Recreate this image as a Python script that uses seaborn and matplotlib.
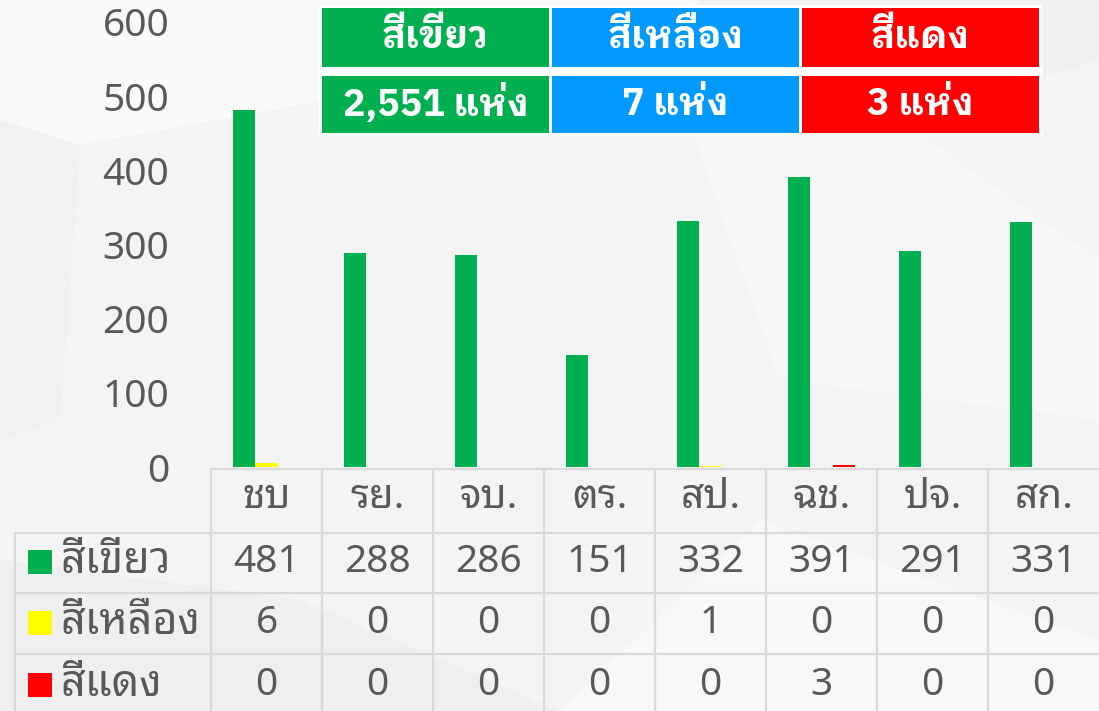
import matplotlib
matplotlib.use("Agg")
import matplotlib.pyplot as plt
from matplotlib.patches import Rectangle, Polygon
from matplotlib.lines import Line2D
import matplotlib.transforms as mtransforms
import pandas as pd
import seaborn as sns

# ---------------- data ----------------
provinces = ["ชบ", "รย.", "จบ.", "ตร.", "สป.", "ฉช.", "ปจ.", "สก."]
series_names = ["สีเขียว", "สีเหลือง", "สีแดง"]
green_vals = [481, 288, 286, 151, 332, 391, 291, 331]
yellow_vals = [6, 0, 0, 0, 1, 0, 0, 0]
red_vals = [0, 0, 0, 0, 0, 3, 0, 0]
summary_labels = ["สีเขียว", "สีเหลือง", "สีแดง"]
summary_values = ["2,551 แห่ง", "7 แห่ง", "3 แห่ง"]
y_ticks = [0, 100, 200, 300, 400, 500, 600]

colors = ["#00B050", "#FFFF00", "#FF0000"]
legend_colors = ["#00B050", "#0099FF", "#FF0000"]
text_color = "#595959"
grid_color = "#d9d9d9"

FONT = ["Noto Sans Thai Looped", "Noto Sans", "DejaVu Sans"]
BOLD_FONT = ["IBM Plex Sans Thai Looped", "Noto Sans Thai Looped", "Noto Sans", "DejaVu Sans"]

sns.set_theme(style="white")
plt.rcParams["font.family"] = FONT

W, H = 1099, 711
fig = plt.figure(figsize=(W / 100, H / 100), dpi=100)
fig.patch.set_facecolor("#f4f4f4")

def fx(x):
    return x / W

def fy(y):
    return 1 - y / H

# faint background polygons
bg_polys = [
    ([(0, 0), (700, 0), (660, 40), (80, 145), (0, 120)], "#f9f9f9"),
    ([(0, 120), (80, 145), (60, 420), (0, 440)], "#f1f1f1"),
    ([(700, 0), (1099, 0), (1099, 60), (900, 120), (660, 40)], "#f0f0f0"),
    ([(660, 40), (900, 120), (1099, 260), (1099, 420), (780, 380)], "#f7f7f7"),
    ([(0, 560), (300, 600), (560, 711), (0, 711)], "#efefef"),
    ([(560, 711), (760, 520), (1099, 640), (1099, 711)], "#f8f8f8"),
]
for pts, c in bg_polys:
    fig.patches.append(Polygon([(fx(x), fy(y)) for x, y in pts], closed=True,
                               transform=fig.transFigure, facecolor=c,
                               edgecolor="none", zorder=-10))

# ---------------- bar axes ----------------
ax_left, ax_right = 211, 1099
ax_top, ax_bottom = 22, 467
ax = fig.add_axes([fx(ax_left), fy(ax_bottom), (ax_right - ax_left) / W,
                   (ax_bottom - ax_top) / H])
ax.set_facecolor("none")

df = pd.DataFrame({
    "province": provinces * 3,
    "series": [series_names[0]] * 8 + [series_names[1]] * 8 + [series_names[2]] * 8,
    "count": green_vals + yellow_vals + red_vals,
})
sns.barplot(data=df, x="province", y="count", hue="series", order=provinces,
            hue_order=series_names, palette=colors, width=0.6, saturation=1,
            ax=ax, legend=False, edgecolor="none", linewidth=0)
ax.set_xlim(-0.5, len(provinces) - 0.5)
ax.set_ylim(0, 600)
ax.set_yticks(y_ticks)
ax.set_yticklabels([str(t) for t in y_ticks], fontsize=28, color=text_color)
ax.tick_params(axis="y", length=0, pad=30)
ax.tick_params(axis="x", length=0, labelbottom=False)
ax.set_xlabel("")
ax.set_ylabel("")
for s in ax.spines.values():
    s.set_visible(False)

# ---------------- data table ----------------
row_lines = [468.5, 533, 593, 654]
table_left = 15
label_col = 211
blend = mtransforms.blended_transform_factory(ax.transData, fig.transFigure)

def hline(y, x0, x1):
    fig.add_artist(Line2D([fx(x0), fx(x1)], [fy(y), fy(y)], transform=fig.transFigure,
                          color=grid_color, lw=1.6, zorder=5))

def vline(x, y0, y1):
    fig.add_artist(Line2D([fx(x), fx(x)], [fy(y0), fy(y1)], transform=fig.transFigure,
                          color=grid_color, lw=1.6, zorder=5))

hline(row_lines[0], label_col, W)
for y in row_lines[1:]:
    hline(y, table_left, W)
vline(table_left, row_lines[1], H)
cell_w = (ax_right - ax_left) / len(provinces)
for i in range(len(provinces)):
    vline(label_col + i * cell_w, row_lines[0], H)

header_y = 498
row_centers = [562, 623, 685]
for i, p in enumerate(provinces):
    fig.text(i, fy(header_y), p, transform=blend, ha="center", va="center",
             fontsize=29, color=text_color)

for r, vals in enumerate([green_vals, yellow_vals, red_vals]):
    yc = row_centers[r]
    fig.patches.append(Rectangle((fx(28), fy(yc + 12)), 24 / W, 24 / H,
                                 transform=fig.transFigure, facecolor=colors[r],
                                 edgecolor="none", zorder=6))
    fig.text(fx(61), fy(yc), series_names[r], ha="left", va="center",
             fontsize=31, color=text_color)
    for i, v in enumerate(vals):
        fig.text(i, fy(yc), str(v), transform=blend, ha="center", va="center",
                 fontsize=28, color=text_color)

# ---------------- summary box ----------------
fig.patches.append(Rectangle((fx(319), fy(136)), (1042 - 319) / W, (136 - 5) / H,
                             transform=fig.transFigure, facecolor="white",
                             edgecolor="none", zorder=7))
cells_x = [(322, 549), (552, 799), (802, 1039)]
rows_y = [(8, 67), (76, 133)]
for c, (x0, x1) in enumerate(cells_x):
    for r, (y0, y1) in enumerate(rows_y):
        fig.patches.append(Rectangle((fx(x0), fy(y1)), (x1 - x0) / W, (y1 - y0) / H,
                                     transform=fig.transFigure,
                                     facecolor=legend_colors[c], edgecolor="none",
                                     zorder=8))
        txt = summary_labels[c] if r == 0 else summary_values[c]
        fig.text(fx((x0 + x1) / 2), fy((y0 + y1) / 2), txt, ha="center", va="center",
                 fontsize=27, fontweight="bold", color="white", zorder=9,
                 family=BOLD_FONT)

fig.savefig("out.png", dpi=100, facecolor=fig.get_facecolor())
